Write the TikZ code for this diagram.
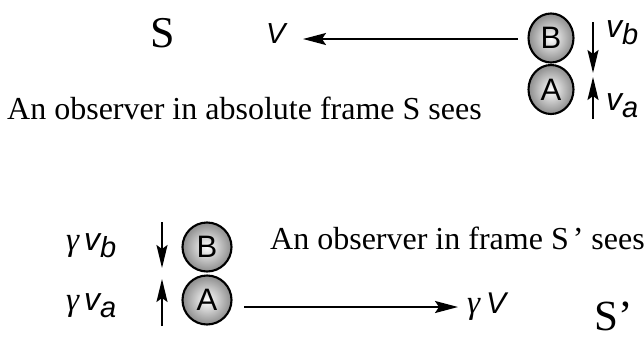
\documentclass[tikz,border=0pt]{standalone}
\usepackage{fontspec}
\setmainfont{Liberation Serif}
\setsansfont{Liberation Sans}
\usetikzlibrary{arrows.meta,shapes.geometric}
\newcommand{\fsz}[1]{\fontsize{#1}{#1}\selectfont}
\newcommand{\lowsub}[1]{\raisebox{-7pt}{\fsz{29}#1}}
\newcommand{\gam}{{\rmfamily\itshape\fsz{33}γ}}
\begin{document}
\begin{tikzpicture}[x=1pt,y=-1pt,
  txt/.style={inner sep=0pt, anchor=base west},
  vfont/.style={font=\sffamily\itshape\fsz{32}},
  ball/.style={ellipse, draw, line width=2.1pt, shading=radial, inner color=white, outer color=black!45, font=\sffamily\fsz{31}, inner sep=0pt},
  arr/.style={line width=1.9pt, -{Stealth[length=23pt,width=12pt,inset=4pt]}},
  varr/.style={line width=1.9pt, -{Stealth[length=23pt,width=11pt,inset=4pt]}}]
\useasboundingbox (0,0) rectangle (644,340);
% top frame S
\node[txt, font=\fsz{44}] (S1) at (150,47) {S};
\node[txt, font=\sffamily\itshape\fsz{29}] (V1) at (266,43) {V};
\node[ball, minimum width=45pt, minimum height=49pt] (B1) at (551,38) {B};
\node[ball, minimum width=45pt, minimum height=49pt] (A1) at (551,89.5) {A};
\coordinate (t1s) at (518,39);
\coordinate (t1e) at (303,39);
\draw[arr] (t1s) -- (t1e);
\coordinate (d1s) at (593,22);
\coordinate (d1e) at (593,73);
\coordinate (u1s) at (593,119);
\coordinate (u1e) at (593,77);
\draw[varr] (d1s) -- (d1e);
\draw[varr] (u1s) -- (u1e);
\node[txt, vfont] (vb1) at (606,37) {v\lowsub{b}};
\node[txt, vfont] (va1) at (606,110) {v\lowsub{a}};
\node[txt, font=\fsz{32}] (T1) at (7,119) {An observer in absolute frame S sees};
% bottom frame S'
\node[ball, minimum size=49pt] (B2) at (207,247) {B};
\node[ball, minimum size=49pt] (A2) at (207,300) {A};
\coordinate (d2s) at (162,222);
\coordinate (d2e) at (162,268);
\coordinate (u2s) at (162,326);
\coordinate (u2e) at (162,279);
\draw[varr] (d2s) -- (d2e);
\draw[varr] (u2s) -- (u2e);
\node[txt, vfont] (gvb) at (66,250) {\gam\hspace{5pt}v\lowsub{b}};
\node[txt, vfont] (gva) at (66,310) {\gam\hspace{5pt}v\lowsub{a}};
\coordinate (t2s) at (244,307);
\coordinate (t2e) at (458,307);
\draw[arr] (t2s) -- (t2e);
\node[txt, font=\sffamily\itshape\fsz{30}] (gV) at (467,313) {\gam\hspace{6pt}V};
\node[txt, font=\fsz{32}] (T2) at (270,249) {An observer in frame S\hspace{4pt}’ sees};
\node[txt, font=\fsz{43}] (S2) at (594,330) {S’};
\end{tikzpicture}
\end{document}
